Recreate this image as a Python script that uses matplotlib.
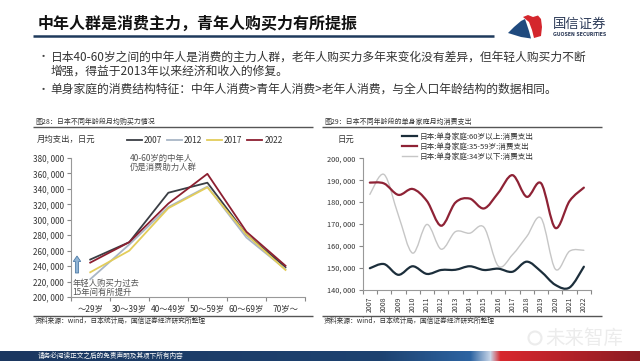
import matplotlib
matplotlib.use("Agg")
import matplotlib.pyplot as plt
from matplotlib.path import Path
from matplotlib.patches import PathPatch, Polygon, FancyArrow
from matplotlib.ticker import FuncFormatter
import numpy as np

plt.rcParams['font.family'] = ['Noto Sans CJK SC', 'DejaVu Sans']
plt.rcParams['axes.unicode_minus'] = False

# ---------------- data ----------------
age_groups = ['～29岁', '30～39岁', '40～49岁', '50～59岁', '60～69岁', '70岁～']
spend_2007 = [248500, 271000, 335000, 348000, 281000, 238500]
spend_2012 = [223000, 268000, 316500, 343000, 277000, 236000]
spend_2017 = [232000, 260000, 315000, 342000, 281000, 235000]
spend_2022 = [244500, 271000, 321000, 359500, 284500, 240500]
left_series_names = ['2007', '2012', '2017', '2022']

years = ['2007', '2008', '2009', '2010', '2011', '2012', '2013', '2014',
         '2015', '2016', '2017', '2018', '2019', '2020', '2021', '2022']
single_60plus = [149800, 151700, 146800, 150700, 147200, 149000, 149100, 150700,
                 149000, 149600, 148200, 152800, 148300, 142200, 141000, 150500]
single_35_59 = [188900, 188500, 183300, 186000, 180500, 169200, 179800, 181600,
                177100, 184200, 192300, 182400, 188600, 168200, 180500, 186600]
single_u34 = [183500, 192600, 174000, 156700, 169800, 158500, 166500, 165800,
              168500, 150800, 156000, 164300, 172700, 149400, 157600, 158000]
right_series_names = ['日本:单身家庭:60岁以上:消费支出',
                      '日本:单身家庭:35-59岁:消费支出',
                      '日本:单身家庭:34岁以下:消费支出']

W, H = 640, 361
fig = plt.figure(figsize=(6.4, 3.61), dpi=100)
fig.patch.set_facecolor('white')

# background canvas in pixel coordinates
ax0 = fig.add_axes([0, 0, 1, 1])
ax0.set_xlim(0, W)
ax0.set_ylim(H, 0)
ax0.axis('off')


def T(x, y, s, size, **kw):
    kw.setdefault('va', 'center')
    kw.setdefault('ha', 'left')
    ax0.text(x, y, s, fontsize=size, **kw)


def HL(x0, x1, y, color, lw):
    ax0.plot([x0, x1], [y, y], color=color, lw=lw, solid_capstyle='butt')


# ---------- header ----------
T(38, 24, '中年人群是消费主力，青年人购买力有所提振', 11.5, fontweight='bold', color='#111111')
HL(33, 494, 35.5, '#1f3a5c', 1.8)

# logo
ax0.add_patch(Polygon([(508, 33), (514, 27), (521, 21), (525, 19), (527, 25),
                       (529, 31), (531, 38.5), (521, 37)], closed=True,
                      fc='#1f4a7e', ec='none'))
ax0.add_patch(Polygon([(523, 17), (528, 15), (533, 17), (538, 15.5), (541, 19),
                       (542, 27), (541, 36), (534, 38), (532, 30), (529, 22)],
                      closed=True, fc='#d4262d', ec='none'))
T(553, 23.5, '国信证券', 9.6, color='#2d3b58')
T(553, 34.5, 'GUOSEN SECURITIES', 3.3, color='#2d3b58', fontweight='bold',
  family='DejaVu Sans')

# bullets
T(38, 57, '•', 8, color='#444444')
T(50.5, 57, '日本40-60岁之间的中年人是消费的主力人群，老年人购买力多年来变化没有差异，但年轻人购买力不断',
  8.5, color='#333333')
T(50.5, 71, '增强，得益于2013年以来经济和收入的修复。', 8.5, color='#333333')
T(38, 89.5, '•', 8, color='#444444')
T(50.5, 89.5, '单身家庭的消费结构特征：中年人消费>青年人消费>老年人消费，与全人口年龄结构的数据相同。',
  8.5, color='#333333')

# ---------- left panel decorations ----------
T(35, 121.5, '图28：日本不同年龄段月均购买力情况', 5, color='#333333')
HL(33, 313, 127, '#555555', 1.0)
T(37, 139.5, '月均支出，日元', 6, color='#333333')
HL(33, 313, 316, '#555555', 1.0)
T(35, 320.5, '资料来源：wind，日本统计局，国信证券经济研究所整理', 4.9, color='#333333', va='center')
T(130, 158, '40-60岁的中年人', 6, color='#555555')
T(130, 167.5, '仍是消费助力人群', 6, color='#555555')
T(72.5, 283, '年轻人购买力过去', 6, color='#555555')
T(72.5, 292.5, '15年间有所提升', 6, color='#555555')
ax0.add_patch(FancyArrow(77, 273, 0, -17, width=3.2, head_width=7.5, head_length=5.5,
                         length_includes_head=True, fc='#8fb3d4', ec='#4f7ba6', lw=0.6))

# ---------- right panel decorations ----------
T(324, 121.5, '图29：日本不同年龄段的单身家庭月均消费支出', 5, color='#333333')
HL(322, 602, 127, '#555555', 1.0)
T(338, 139.5, '日元', 6, color='#333333')
HL(322, 602, 316, '#555555', 1.0)
T(324, 320.5, '资料来源：wind，日本统计局，国信证券经济研究所整理', 4.9, color='#333333')

# watermark
T(545, 338, '未来智库', 14, color='#ececec')
ax0.add_patch(plt.Circle((535, 338), 6.5, fc='none', ec='#ececec', lw=1.5))

# ---------- footer ----------
axf = fig.add_axes([0, 0, 1, 10.5 / H])
stops_x = [0, 380, 470, 490, 500, 560, 640]
stops_c = ['#1b3760', '#1d4270', '#2d64a2', '#c8d6e8', '#d8282e', '#b8222a', '#8a1c22']
rgb = np.array([matplotlib.colors.to_rgb(c) for c in stops_c])
xs = np.arange(W)
grad = np.stack([np.interp(xs, stops_x, rgb[:, k]) for k in range(3)], axis=-1)
axf.imshow(grad[None, :, :], aspect='auto', extent=[0, W, 0, 1])
axf.axis('off')
axf.text(38 / W, 0.45, '请务必阅读正文之后的免责声明及其项下所有内容', fontsize=4.8,
         color='white', transform=axf.transAxes, va='center')

# ---------- left chart ----------
axL = fig.add_axes([70.7 / W, 1 - 297 / H, (305 - 70.7) / W, (297 - 158) / H])
axL.set_facecolor('none')
xL = np.arange(len(age_groups))
left_colors = ['#3a3e44', '#a9b6c6', '#e3cd5a', '#8c1f30']
for name, vals, c in zip(left_series_names, [spend_2007, spend_2012, spend_2017, spend_2022], left_colors):
    axL.plot(xL, vals, color=c, lw=1.3, label=name)
axL.set_xlim(-0.5, len(age_groups) - 0.5)
axL.set_ylim(200000, 380000)
axL.set_yticks(np.arange(200000, 380001, 20000))
axL.yaxis.set_major_formatter(FuncFormatter(lambda v, p: f"{int(v):,}".replace(',', ', ')))
axL.set_xticks(np.arange(-0.5, len(age_groups), 1.0))
axL.set_xticklabels([])
axL.set_xticks(xL, minor=True)
axL.set_xticklabels(age_groups, minor=True)
axL.tick_params(axis='x', which='minor', length=0, pad=5, labelsize=6, labelcolor='#333333')
axL.tick_params(axis='x', which='major', length=3, color='#888888')
axL.tick_params(axis='y', length=3, color='#888888', labelsize=5.8, labelcolor='#333333', pad=2)
for s in ['top', 'right']:
    axL.spines[s].set_visible(False)
for s in ['left', 'bottom']:
    axL.spines[s].set_color('#999999')
    axL.spines[s].set_linewidth(0.8)
axL.legend(ncol=4, loc='center left', bbox_to_anchor=(127 / W, 1 - 140 / H),
           bbox_transform=fig.transFigure, frameon=False, fontsize=6,
           handlelength=1.8, handletextpad=0.25, columnspacing=0.55,
           borderpad=0, borderaxespad=0, labelcolor='#333333')

# ---------- right chart ----------
axR = fig.add_axes([362.7 / W, 1 - 289.7 / H, (591 - 362.7) / W, (289.7 - 158.3) / H])
axR.set_facecolor('none')
xR = np.arange(len(years))


def smooth_path(xv, yv):
    n = len(xv)
    verts = [(xv[0], yv[0])]
    codes = [Path.MOVETO]
    for i in range(n - 1):
        a = i - 1 if i > 0 else i
        d = i + 2 if i + 2 < n else i + 1
        c1 = (xv[i] + (xv[i + 1] - xv[a]) / 6.0, yv[i] + (yv[i + 1] - yv[a]) / 6.0)
        c2 = (xv[i + 1] - (xv[d] - xv[i]) / 6.0, yv[i + 1] - (yv[d] - yv[i]) / 6.0)
        verts += [c1, c2, (xv[i + 1], yv[i + 1])]
        codes += [Path.CURVE4] * 3
    return Path(verts, codes)


right_colors = ['#1c2e3b', '#8e2235', '#c6c6c6']
right_lw = [1.6, 1.6, 1.0]
right_vals = [single_60plus, single_35_59, single_u34]
for vals, c, lw in zip(right_vals[::-1], right_colors[::-1], right_lw[::-1]):
    axR.add_patch(PathPatch(smooth_path(xR, np.array(vals, dtype=float)), fill=False,
                            ec=c, lw=lw, capstyle='round', joinstyle='round'))
handles = []
for name, c, lw in zip(right_series_names, right_colors, right_lw):
    h, = axR.plot([], [], color=c, lw=lw, label=name)
    handles.append(h)
axR.set_xlim(-0.5, len(years) - 0.5)
axR.set_ylim(140000, 200000)
axR.set_yticks(np.arange(140000, 200001, 10000))
axR.yaxis.set_major_formatter(FuncFormatter(lambda v, p: f"{int(v):,}".replace(',', ', ')))
axR.set_xticks(np.arange(-0.5, len(years), 1.0))
axR.set_xticklabels([])
axR.set_xticks(xR, minor=True)
axR.set_xticklabels(years, minor=True, rotation=90)
axR.tick_params(axis='x', which='minor', length=0, pad=5, labelsize=5, labelcolor='#333333')
axR.tick_params(axis='x', which='major', length=3, color='#888888')
axR.tick_params(axis='y', length=3, color='#888888', labelsize=5.3, labelcolor='#333333', pad=2)
for s in ['top', 'right']:
    axR.spines[s].set_visible(False)
for s in ['left', 'bottom']:
    axR.spines[s].set_color('#999999')
    axR.spines[s].set_linewidth(0.8)
axR.legend(handles=handles, loc='upper left', bbox_to_anchor=(402 / W, 1 - 133 / H),
           bbox_transform=fig.transFigure, frameon=False, fontsize=5.5,
           handlelength=2.0, handletextpad=0.3, labelspacing=0.25,
           borderpad=0, borderaxespad=0, labelcolor='#333333')

fig.savefig('out.png', dpi=100)
